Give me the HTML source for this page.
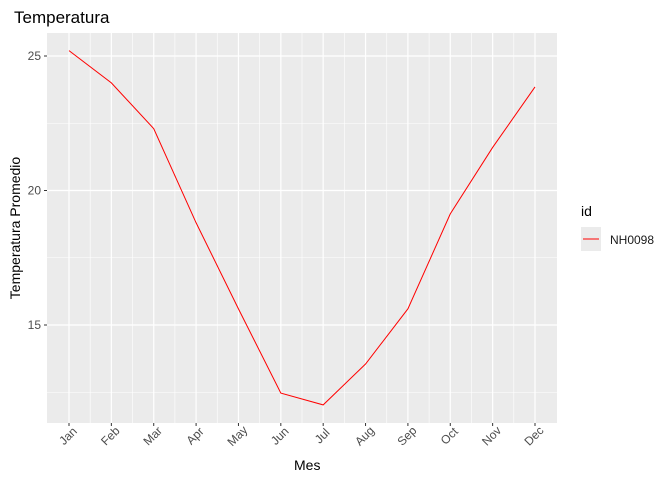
<!DOCTYPE html>
<html><head><meta charset="utf-8"><style>
body{margin:0;background:#fff;font-family:"Liberation Sans",Arial,sans-serif}
text{font-family:"Liberation Sans",Arial,sans-serif}
</style></head><body>
<svg id="chart" width="672" height="480">
<rect width="672" height="480" fill="#fff"/>
<text x="14" y="23" font-size="17" fill="#000">Temperatura</text>
<rect x="47" y="33" width="510" height="390" fill="#ebebeb"/>
<g id="grid"></g>
<g id="axes"></g>
<path id="line" fill="none" stroke="#ff0000" stroke-width="1"/>
<text x="294" y="470" font-size="14" fill="#000">Mes</text>
<text transform="translate(20,228) rotate(-90)" text-anchor="middle" font-size="14" fill="#000">Temperatura Promedio</text>
<g>
<text x="581" y="216" font-size="14" fill="#000">id</text>
<rect x="581" y="227" width="20" height="24" fill="#ebebeb"/>
<line x1="583" y1="239" x2="599" y2="239" stroke="#ff0000"/>
<text x="610" y="244" font-size="12" fill="#1a1a1a">NH0098</text>
</g>
</svg>
<script>
const months=["Jan","Feb","Mar","Apr","May","Jun","Jul","Aug","Sep","Oct","Nov","Dec"];
const temps=[25.2,24.0,22.3,18.8,15.6,12.47,12.03,13.55,15.6,19.13,21.6,23.85];
const yTicks=[15,20,25];
const yMinor=[12.5,17.5,22.5];
const NS="http://www.w3.org/2000/svg";
function xs(i){return 69+i*(535-69)/11;}
function ys(v){return 56+(25-v)*26.9;}
const grid=document.getElementById('grid'),axes=document.getElementById('axes');
function mk(tag,attrs,parent){const e=document.createElementNS(NS,tag);for(const k in attrs)e.setAttribute(k,attrs[k]);parent.appendChild(e);return e;}
yMinor.forEach(v=>{const l=mk('line',{x1:47,x2:557,y1:ys(v),y2:ys(v),stroke:'#fff','stroke-width':0.6},grid);

});
for(let i=0;i<months.length-1;i++){const x=(xs(i)+xs(i+1))/2;const l=mk('line',{x1:x,x2:x,y1:33,y2:423,stroke:'#fff','stroke-width':0.6},grid);

}
yTicks.forEach(v=>{const y=ys(v);const l=mk('line',{x1:47,x2:557,y1:y,y2:y,stroke:'#fff','stroke-width':1.2},grid);


const t=mk('line',{x1:44,x2:47,y1:y,y2:y,stroke:'#333'},axes);


const tx=mk('text',{x:41,y:y+4,'text-anchor':'end','font-size':12,fill:'#4d4d4d'},axes);tx.textContent=v;

});
months.forEach((m,i)=>{const x=xs(i);const l=mk('line',{x1:x,x2:x,y1:33,y2:423,stroke:'#fff','stroke-width':1.2},grid);


const t=mk('line',{x1:x,x2:x,y1:423,y2:426,stroke:'#333'},axes);


const tx=mk('text',{transform:`translate(${x-1},${436}) rotate(-45)`,x:0,y:4,'text-anchor':'middle','font-size':12,fill:'#4d4d4d'},axes);tx.textContent=m;

});
document.getElementById('line').setAttribute('d',temps.map((v,i)=>(i?'L':'M')+xs(i)+','+ys(v)).join(''));
</script>
</body></html>
